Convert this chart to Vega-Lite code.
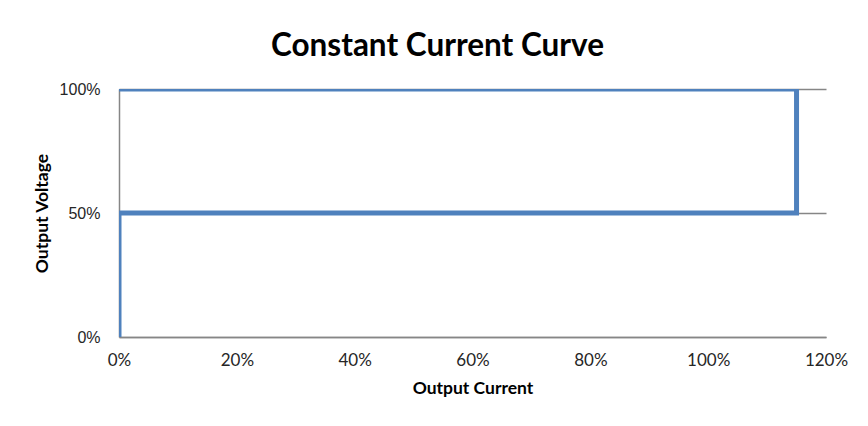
{
  "$schema": "https://vega.github.io/schema/vega-lite/v6.json",
  "autosize": {"type": "none"},
  "width": 707,
  "height": 248,
  "padding": {"left": 119, "top": 89, "right": 42, "bottom": 89},
  "background": "white",
  "title": {
    "text": "Constant Current Curve",
    "font": "Lato",
    "fontWeight": "bold",
    "fontSize": 31.5,
    "color": "#000000",
    "anchor": "middle",
    "baseline": "alphabetic",
    "offset": -6,
    "dx": -35
  },
  "config": {"view": {"stroke": null}},
  "data": {
    "values": [
      {"order": 1, "current": 0, "voltage": 0},
      {"order": 2, "current": 0, "voltage": 0.5},
      {"order": 3, "current": 1.15, "voltage": 0.5},
      {"order": 4, "current": 1.15, "voltage": 1},
      {"order": 5, "current": 0, "voltage": 1}
    ]
  },
  "mark": {"type": "line", "color": "#4F81BD", "strokeWidth": 5, "clip": true, "strokeJoin": "miter", "strokeCap": "butt"},
  "encoding": {
    "order": {"field": "order", "type": "quantitative"},
    "x": {
      "field": "current",
      "type": "quantitative",
      "scale": {"domain": [0, 1.2], "nice": false},
      "axis": {
        "title": "Output Current",
        "format": ".0%",
        "values": [0, 0.2, 0.4, 0.6, 0.8, 1, 1.2],
        "grid": false,
        "ticks": false,
        "domainColor": "#868686",
        "domainWidth": 1.5,
        "labelFont": "Lato",
        "labelFontSize": 17,
        "labelColor": "#262626",
        "labelPadding": 15,
        "labelFlush": false,
        "titleFont": "Lato",
        "titleFontSize": 17.5,
        "titleFontWeight": "bold",
        "titleColor": "#000000",
        "titlePadding": 11
      }
    },
    "y": {
      "field": "voltage",
      "type": "quantitative",
      "scale": {"domain": [0, 1], "nice": false},
      "axis": {
        "title": "Output Voltage",
        "format": ".0%",
        "values": [0, 0.5, 1],
        "grid": true,
        "gridColor": "#868686",
        "gridWidth": 1.5,
        "ticks": false,
        "domainColor": "#868686",
        "domainWidth": 1.5,
        "labelFont": "Liberation Sans",
        "labelFontSize": 16,
        "labelColor": "#262626",
        "labelPadding": 19,
        "labelFlush": false,
        "titleFont": "Lato",
        "titleFontSize": 17.5,
        "titleFontWeight": "bold",
        "titleColor": "#000000",
        "titlePadding": 8
      }
    }
  }
}
